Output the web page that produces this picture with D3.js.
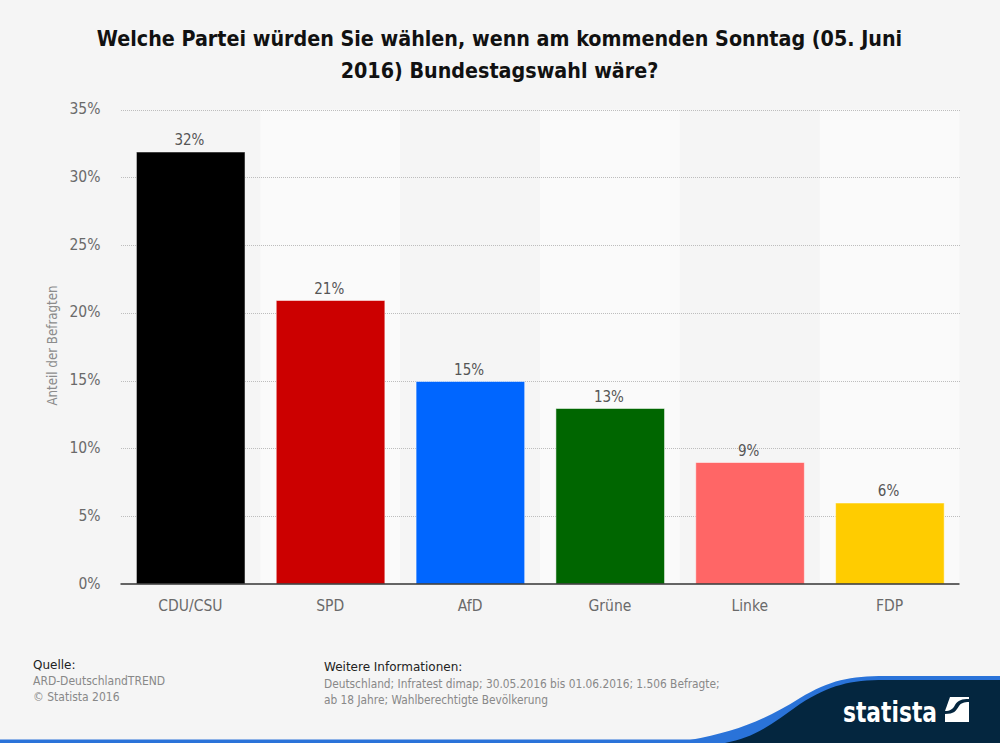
<!DOCTYPE html>
<html><head><meta charset="utf-8">
<script src="https://cdn.jsdelivr.net/npm/d3@7/dist/d3.min.js"></script>
<style>html,body{margin:0;padding:0;background:#f5f5f5}svg{display:block}text{font-family:"DejaVu Sans",sans-serif}</style>
</head><body><svg id="c" width="1000" height="743"></svg>
<script>
const categories=["CDU/CSU","SPD","AfD","Grüne","Linke","FDP"];
const values=[32,21,15,13,9,6];
const colors=["#000000","#cc0000","#0066ff","#006600","#ff6666","#ffcc00"];
const yTicks=[0,5,10,15,20,25,30,35];
const titleLines=["Welche Partei würden Sie wählen, wenn am kommenden Sonntag (05. Juni","2016) Bundestagswahl wäre?"];
const yAxisTitle="Anteil der Befragten";
const sourceLines=["ARD-DeutschlandTREND","© Statista 2016"];
const infoLines=["Deutschland; Infratest dimap; 30.05.2016 bis 01.06.2016; 1.506 Befragte;","ab 18 Jahre; Wahlberechtigte Bevölkerung"];

const svg=d3.select("#c");
const cond="'DejaVu Sans Condensed','DejaVu Sans',sans-serif";
const x=d3.scaleBand().domain(categories).range([120.5,959.5]).paddingInner(0).paddingOuter(0);
const y=d3.scaleLinear().domain([0,35]).range([584,109.5]);
const yBar=d3.scaleLinear().domain([0,35]).range([584,111.5]);
const barW=108.6;

svg.append("g").selectAll("text").data(titleLines).join("text")
 .attr("x",499.5).attr("y",(d,i)=>46+i*32).attr("text-anchor","middle")
 .attr("font-size",21.3).attr("font-weight","bold").attr("fill","#111")
 .style("font-family",cond).text(d=>d);

svg.append("g").selectAll("rect").data(categories.filter((d,i)=>i%2==1)).join("rect")
 .attr("x",d=>x(d)).attr("y",y(35)).attr("width",x.bandwidth()).attr("height",y(0)-y(35)).attr("fill","#fafafa");

svg.append("g").selectAll("line").data(yTicks.filter(d=>d>0)).join("line")
 .attr("x1",121).attr("x2",960).attr("y1",d=>Math.round(y(d))+.5).attr("y2",d=>Math.round(y(d))+.5)
 .attr("stroke","#bdbdbd").attr("stroke-dasharray","1,1");

svg.append("g").selectAll("text").data(yTicks).join("text")
 .attr("x",100.5).attr("y",d=>y(d)+4.5).attr("text-anchor","end")
 .attr("font-size",15.5).attr("fill","#6a6a6a").style("font-family",cond).text(d=>d+"%");

svg.append("text").attr("transform","translate(57,345.5) rotate(-90)").attr("text-anchor","middle")
 .attr("font-size",13.2).attr("fill","#8c8c8c").style("font-family",cond).text(yAxisTitle);

svg.append("g").selectAll("rect").data(values).join("rect")
 .attr("x",(d,i)=>x(categories[i])+x.bandwidth()/2-barW/2+.3).attr("y",d=>yBar(d))
 .attr("width",barW).attr("height",d=>yBar(0)-yBar(d))
 .attr("fill",(d,i)=>colors[i]).attr("stroke","#fff").attr("stroke-opacity",.5).attr("stroke-width",1);

svg.append("line").attr("x1",120.5).attr("x2",959.5).attr("y1",584).attr("y2",584).attr("stroke","#333").attr("stroke-width",1.5);

svg.append("g").selectAll("text").data(values).join("text")
 .attr("x",(d,i)=>x(categories[i])+x.bandwidth()/2-1).attr("y",d=>yBar(d)-7).attr("text-anchor","middle")
 .attr("font-size",15).attr("fill","#555").style("font-family",cond).text(d=>d+"%");

svg.append("g").selectAll("text").data(categories).join("text")
 .attr("x",d=>x(d)+x.bandwidth()/2).attr("y",610.5).attr("text-anchor","middle")
 .attr("font-size",15.5).attr("fill","#6a6a6a").style("font-family",cond).text(d=>d);

svg.append("text").attr("x",33).attr("y",669).attr("font-size",12).attr("fill","#222").text("Quelle:");
svg.append("g").selectAll("text").data(sourceLines).join("text").attr("x",33).attr("y",(d,i)=>685+i*16)
 .attr("font-size",12).attr("fill","#888").style("font-family",cond).text(d=>d);
svg.append("text").attr("x",324).attr("y",671).attr("font-size",12).attr("fill","#222").text("Weitere Informationen:");
svg.append("g").selectAll("text").data(infoLines).join("text").attr("x",324).attr("y",(d,i)=>688+i*15.5)
 .attr("font-size",11.8).attr("fill","#888").style("font-family",cond).text(d=>d);

// ribbon
svg.append("rect").attr("x",0).attr("y",739.5).attr("width",730).attr("height",3.5).attr("fill","#2a73d9");
svg.append("path").attr("fill","#2a73d9").attr("d","M690,740 C735,732 765,720 800,698 C830,680 850,676 885,676 L1000,676 L1000,743 L690,743 Z");
svg.append("path").attr("fill","#04263f").attr("d","M725,743 C755,738 775,722 800,704 C830,685 850,680 885,680 L1000,680 L1000,743 Z");

svg.append("text").attr("x",843).attr("y",722).attr("font-size",29).attr("font-weight","bold").attr("fill","#fff")
 .attr("textLength",94).attr("lengthAdjust","spacingAndGlyphs").style("font-family",cond).text("statista");
svg.append("rect").attr("x",945).attr("y",697).attr("width",24).attr("height",25).attr("fill","#fff");
svg.append("path").attr("fill","#04263f").attr("d","M945,697 L950,697 L945,711 Z");
svg.append("path").attr("fill","#04263f").attr("d","M945,714 C954,714 956,711 959,706 C961,703 964,702 969,702 L969,699 C962,699 958,700 955,705 C953,709 950,711 945,711 Z");
</script></body></html>
